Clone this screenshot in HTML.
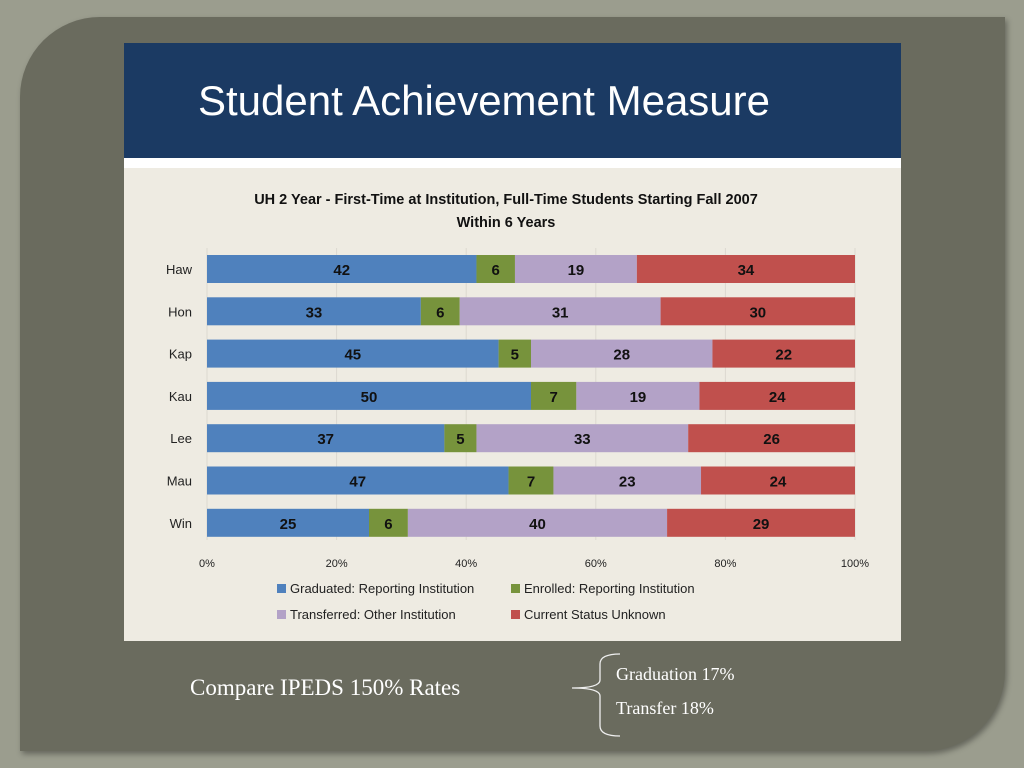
<!DOCTYPE html>
<html><head><meta charset="utf-8"><style>
body{margin:0;width:1024px;height:768px;background:#9b9d8e;position:relative;overflow:hidden;font-family:"Liberation Sans",sans-serif}
#panel{position:absolute;left:20px;top:17px;width:985px;height:734px;background:#6a6b5e;border-radius:80px 0 80px 0;box-shadow:2px 3px 6px rgba(0,0,0,.35)}
#slide{position:absolute;left:124px;top:43px;width:777px;height:598px;background:#fff}
#hdr{position:absolute;left:0;top:0;width:777px;height:115px;background:#1b3a63;color:#fff;font-size:42px;line-height:115px;text-indent:74px}
#chartbg{position:absolute;left:0;top:125px;width:777px;height:473px;background:#eeebe2}
.t{position:absolute;white-space:nowrap}
</style></head><body>
<div id="panel"></div>
<div id="slide">
<div id="hdr">Student Achievement Measure</div>
<div id="chartbg"></div>
</div>
<svg id="chart" width="1024" height="768" style="position:absolute;left:0;top:0">
<text x="506" y="204" text-anchor="middle" font-size="14.5" font-weight="bold" fill="#111">UH 2 Year - First-Time at Institution, Full-Time Students Starting Fall 2007</text>
<text x="506" y="227" text-anchor="middle" font-size="14.5" font-weight="bold" fill="#111">Within 6 Years</text>
<g id="grid"></g><g id="bars"></g><g id="axis"></g><g id="legend"></g>
</svg>
<div class="t" style="left:190px;top:675px;font-family:'Liberation Serif',serif;font-size:23px;color:#fff">Compare IPEDS 150% Rates</div>
<svg width="60" height="90" style="position:absolute;left:568px;top:650px"><path d="M52 4 Q32 4 32 14 L32 30 Q32 38 4 38 Q32 38 32 46 L32 76 Q32 86 52 86" fill="none" stroke="#eee" stroke-width="1.3"/></svg>
<div class="t" style="left:616px;top:664px;font-family:'Liberation Serif',serif;font-size:18px;color:#fff">Graduation 17%</div>
<div class="t" style="left:616px;top:698px;font-family:'Liberation Serif',serif;font-size:18px;color:#fff">Transfer 18%</div>
<script>
const categories=["Haw","Hon","Kap","Kau","Lee","Mau","Win"];
const graduated=[42,33,45,50,37,47,25];
const enrolled=[6,6,5,7,5,7,6];
const transferred=[19,31,28,19,33,23,40];
const unknown=[34,30,22,24,26,24,29];
const ticks=[0,20,40,60,80,100];
const seriesNames=["Graduated: Reporting Institution","Enrolled: Reporting Institution","Transferred: Other Institution","Current Status Unknown"];
const colors=["#4f81bd","#77933c","#b3a2c7","#c0504d"];
const NS="http://www.w3.org/2000/svg";
const X0=207,X1=855,Y0=269,DY=42.3,BH=28;
const x=p=>X0+(X1-X0)*p/100;
const y=i=>Y0+DY*i;
function mk(tag,attrs,parent){const e=document.createElementNS(NS,tag);for(const k in attrs)e.setAttribute(k,attrs[k]);parent.appendChild(e);return e;}
const grid=document.getElementById('grid'),bars=document.getElementById('bars'),axis=document.getElementById('axis'),legend=document.getElementById('legend');
ticks.forEach(t=>{
 const l=mk('line',{x1:x(t),x2:x(t),y1:248,y2:540,stroke:'#dcd9d0','stroke-width':1},grid);
 
 
 const tx=mk('text',{x:x(t),y:567,'text-anchor':'middle','font-size':11,fill:'#222'},axis);
 tx.textContent=t+'%';
 
 
});
const series=[graduated,enrolled,transferred,unknown];
categories.forEach((c,i)=>{
 const lb=mk('text',{x:192,y:y(i)+5,'text-anchor':'end','font-size':13,fill:'#222'},axis);
 lb.textContent=c;
 
 
 const tot=series.reduce((s,a)=>s+a[i],0);let acc=0;
 series.forEach((a,k)=>{
  const p0=acc/tot*100;acc+=a[i];const p1=acc/tot*100;
  const r=mk('rect',{x:x(p0),y:y(i)-BH/2,width:x(p1)-x(p0),height:BH,fill:colors[k]},bars);
  
  
  const v=mk('text',{x:(x(p0)+x(p1))/2,y:y(i)+6,'text-anchor':'middle','font-size':15,'font-weight':'bold',fill:'#111'},bars);
  v.textContent=a[i];
  
  
 });
});
const lpos=[[277,593],[511,593],[277,619],[511,619]];
seriesNames.forEach((n,k)=>{
 const g=mk('g',{},legend);
 
 
 mk('rect',{x:lpos[k][0],y:lpos[k][1]-9,width:9,height:9,fill:colors[k]},g);
 const t=mk('text',{x:lpos[k][0]+13,y:lpos[k][1],'font-size':13,fill:'#222'},g);
 t.textContent=n;
});
</script>
</body></html>
